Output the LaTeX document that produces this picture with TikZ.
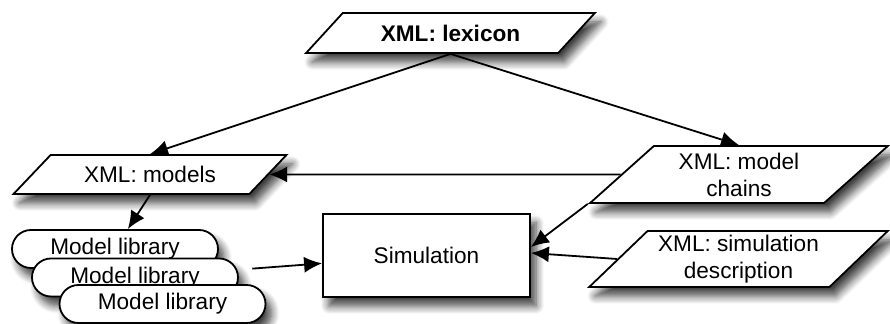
\documentclass[tikz,border=0pt]{standalone}
\usepackage{fontspec}
\setmainfont{Liberation Sans}
\usetikzlibrary{arrows.meta,shapes.geometric,shapes.misc,shadows.blur}

\begin{document}
\begin{tikzpicture}[x=0.5pt,y=-0.5pt,font=\fontsize{11.3}{13.5}\selectfont,line width=0.9pt,
  soft/.style={blur shadow={shadow xshift=3pt,shadow yshift=-4.5pt,shadow blur radius=4pt,shadow blur steps=8,shadow opacity=75}},
  xmlbox/.style={draw,fill=white,soft,trapezium,trapezium stretches=true,trapezium left angle=#1,trapezium right angle={180-#1},inner sep=0pt,align=center},
  libbox/.style={draw,fill=white,soft,rounded rectangle,minimum width=103pt,minimum height=19pt,inner sep=0pt},
  flow/.style={-{Latex[length=9pt,width=8pt]}}]
\useasboundingbox (0,0) rectangle (890,324);
\node[xmlbox=35,minimum width=144.5pt,minimum height=20pt,font=\fontsize{11.3}{13.5}\selectfont\bfseries] (lex) at (450.5,33) {XML: lexicon};
\node[xmlbox=34,minimum width=137pt,minimum height=19.5pt] (models) at (150,174.5) {XML: models};
\node[xmlbox=44,minimum width=149pt,minimum height=28.5pt] (chains) at (739,174.5) {XML: model\\chains};
\node[xmlbox=43,minimum width=149.5pt,minimum height=28pt] (desc) at (738.5,259) {XML: simulation\\description};
\node[draw,fill=white,soft,minimum width=103.5pt,minimum height=41.5pt] (sim) at (426.5,255.5) {Simulation};
\foreach \i/\p in {1/{115,249},2/{135,277.5},3/{162.5,304}}
  \node[libbox] (lib\i) at (\p) {Model library};
% connections
\draw[flow] (lex.south) -- (models.north);
\draw[flow] (lex.south) -- (chains.north);
\draw[flow] (chains) -- (models);
\draw[flow] (models.south) -- (lib1);
\draw[flow,shorten <=7.5pt] (lib2) -- (sim);
\draw[flow] (chains.bottom left corner) -- ([yshift=4.25pt]sim.east);
\draw[flow] (desc.west) -- ([yshift=1.25pt]sim.east);
\end{tikzpicture}
\end{document}
